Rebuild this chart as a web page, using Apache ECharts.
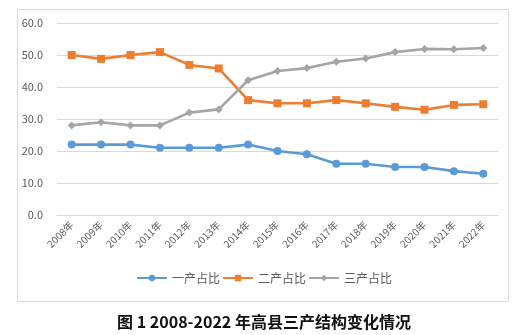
<!DOCTYPE html>
<html><head><meta charset="utf-8">
<script src="https://cdn.jsdelivr.net/npm/echarts@6/dist/echarts.min.js"></script>
<style>html,body{margin:0;padding:0;background:#fff}#c{width:528px;height:335px}</style>
</head><body><div id="c"></div>
<script>
const categories = ['2008年','2009年','2010年','2011年','2012年','2013年','2014年','2015年','2016年','2017年','2018年','2019年','2020年','2021年','2022年'];
const primary = [22,22,22,21,21,21,22,20,19,16,16,15,15,13.7,12.9];
const secondary = [50,48.8,50,50.9,46.9,45.8,35.9,34.9,34.9,35.9,34.9,33.8,32.9,34.4,34.6];
const tertiary = [28,29,28,28,32,33,42.1,45,45.9,47.9,48.9,50.9,51.9,51.8,52.2];
const yTicks = [0,10,20,30,40,50,60];
const seriesNames = ['一产占比','二产占比','三产占比'];
const titleText = '图 1 2008-2022 年高县三产结构变化情况';

const chart = echarts.init(document.getElementById('c'));
const font = '"Noto Sans CJK SC","Noto Sans",sans-serif';
function mk(name, data, color, symbol, size) {
  return {name, type:'line', data, color, symbol, symbolSize:size,
    lineStyle:{width:2.6,color}, itemStyle:{color}, showAllSymbol:true, animation:false};
}
chart.setOption({
  animation:false,
  graphic:[{type:'rect', shape:{x:17.5,y:9.5,width:491,height:292}, style:{fill:'none',stroke:'#d9d9d9',lineWidth:1}, z:-1}],
  title:{text:titleText, left:'center', top:309, textStyle:{fontFamily:font, fontSize:16, fontWeight:'bold', color:'#111'}},
  grid:{left:57, right:30, top:23, bottom:120},
  legend:{data:seriesNames, bottom:46, left:'center', itemWidth:30, itemHeight:8, itemGap:2,
    textStyle:{fontFamily:font, fontSize:12, color:'#595959'}},
  xAxis:{type:'category', data:categories, boundaryGap:true,
    axisLine:{lineStyle:{color:'#d9d9d9'}}, axisTick:{show:false},
    axisLabel:{rotate:45, interval:0, color:'#595959', fontFamily:font, fontSize:10, margin:8}},
  yAxis:{type:'value', min:yTicks[0], max:yTicks[yTicks.length-1], interval:10,
    axisLine:{show:false}, axisTick:{show:false},
    splitLine:{lineStyle:{color:'#d9d9d9'}},
    axisLabel:{formatter:v=>v.toFixed(1), color:'#595959', fontFamily:font, fontSize:11, margin:14}},
  series:[
    mk(seriesNames[0], primary, '#5B9BD5', 'circle', 8),
    mk(seriesNames[1], secondary, '#ED7D31', 'rect', 8),
    mk(seriesNames[2], tertiary, '#A5A5A5', 'diamond', 8)
  ]
});
</script></body></html>
